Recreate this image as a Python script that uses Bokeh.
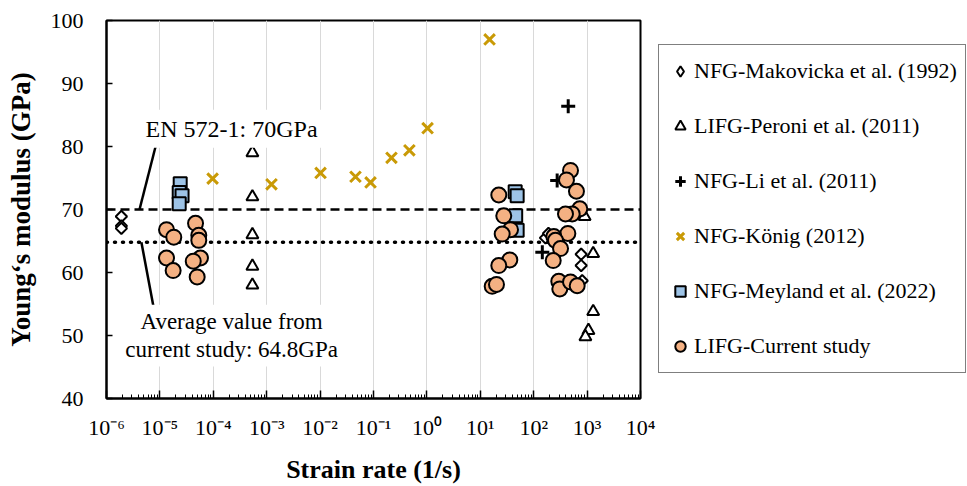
from bokeh.plotting import figure
from bokeh.layouts import row
from bokeh.models import (Span, Label, Legend, LegendItem, FixedTicker,
                          CustomJSTickFormatter, Range1d)
from bokeh.embed import file_html
from bokeh.resources import INLINE

# ---------------- data ----------------
mak_x = [1.9e-6, 1.9e-6, 1.9e-6, 166, 189, 774, 774, 809]
mak_y = [68.9, 67.4, 67.0, 65.5, 66.2, 62.9, 61.1, 58.7]

per_x = [5.4e-4, 5.4e-4, 5.4e-4, 5.4e-4, 5.4e-4, 900, 1300, 1300, 1060, 930]
per_y = [79.0, 72.0, 66.0, 61.0, 58.0, 68.9, 63.0, 53.8, 50.8, 49.8]

li_x = [443, 275, 145]
li_y = [86.4, 74.6, 63.2]

kon_x = [9.7e-5, 1.23e-3, 0.0102, 0.046, 0.088, 0.217, 0.47, 1.03, 14.9]
kon_y = [74.9, 74.0, 75.8, 75.2, 74.3, 78.2, 79.4, 82.9, 97.0]

mey_x = [2.4e-5, 2.3e-5, 2.6e-5, 2.3e-5, 45, 49, 46, 49]
mey_y = [74.1, 72.7, 72.2, 70.9, 72.8, 72.2, 69.0, 66.7]

cur_x = [1.33e-5, 1.82e-5, 1.33e-5, 1.77e-5, 4.65e-5, 5.35e-5, 5.35e-5, 5.75e-5, 4.21e-5, 4.99e-5,
         22.2, 27.5, 36.8, 25.7, 35.7, 22.2, 16.7, 20.1,
         489, 411, 632, 730, 526, 394, 436, 238, 256, 318, 232, 295, 308, 489, 652]
cur_y = [66.8, 65.6, 62.3, 60.3, 67.8, 65.9, 65.1, 62.3, 61.8, 59.3,
         72.3, 69.0, 66.8, 66.1, 62.0, 61.1, 57.8, 58.1,
         76.2, 74.7, 72.9, 70.1, 69.3, 69.3, 66.2, 65.7, 65.1, 63.8, 61.9, 58.6, 57.4, 58.5, 57.9]

series_labels = ["NFG-Makovicka et al. (1992)", "LIFG-Peroni et al. (2011)", "NFG-Li et al. (2011)",
                 "NFG-König (2012)", "NFG-Meyland et al. (2022)", "LIFG-Current study"]

reference_values = [70.0, 64.8]   # EN 572-1 value, average of current study

x_tick_exponents = [-6, -5, -4, -3, -2, -1, 0, 1, 2, 3, 4]
x_tick_labels = ["10⁻⁶", "10⁻⁵", "10⁻⁴", "10⁻³", "10⁻²", "10⁻¹", "10⁰", "10¹", "10²", "10³", "10⁴"]
y_ticks = [40, 50, 60, 70, 80, 90, 100]

# annotation texts and anchor positions (data coords)
en_text = "EN 572-1: 70GPa"
avg_text = "Average value from\ncurrent study: 64.8GPa"
en_pos = (2.2e-4, 82.8)
avg_pos = (2.2e-4, 50.0)
en_leader = ([8.3e-6, 4.15e-6], [80.0, 70.0])
avg_leader = ([4.5e-6, 7.5e-6], [64.8, 54.8])

FONT = "Liberation Serif"

# marker styles per series
styles = [
    dict(marker="square", angle=45, angle_units="deg", size=8, fill_color="white", line_color="black", line_width=2),
    dict(marker="triangle", size=12, fill_color="white", line_color="black", line_width=2),
    dict(marker="cross", size=14, line_color="black", line_width=3),
    dict(marker="x", size=15, line_color="#C99A06", line_width=3),
    dict(marker="square", size=13, fill_color="#9DC3E6", line_color="black", line_width=2),
    dict(marker="circle", size=15, fill_color="#F4B183", line_color="black", line_width=2),
]
# legend glyphs ignore the marker angle, so the first entry uses the diamond marker there
legend_styles = [dict(styles[0], marker="diamond", angle=0)] + styles[1:]
series_xy = [(mak_x, mak_y), (per_x, per_y), (li_x, li_y), (kon_x, kon_y), (mey_x, mey_y), (cur_x, cur_y)]

# ---------------- main figure ----------------
p = figure(width=658, height=486, x_axis_type="log",
           x_range=Range1d(10.0 ** x_tick_exponents[0], 10.0 ** x_tick_exponents[-1]),
           y_range=Range1d(y_ticks[0], y_ticks[-1]),
           output_backend="svg", toolbar_location=None,
           min_border_left=106, min_border_right=18, min_border_top=20, min_border_bottom=88,
           background_fill_color="white", border_fill_color="white")

p.outline_line_color = "black"
p.outline_line_width = 2
p.outline_line_alpha = 1

major = [10.0 ** e for e in x_tick_exponents]
minor = [m * 10.0 ** e for e in x_tick_exponents[:-1] for m in range(2, 10)]
p.xaxis.ticker = FixedTicker(ticks=major, minor_ticks=minor)
p.xaxis.formatter = CustomJSTickFormatter(args=dict(exps=x_tick_exponents, labels=x_tick_labels), code="""
const e = Math.round(Math.log10(tick));
const i = exps.indexOf(e);
return i >= 0 ? labels[i] : "";
""")
p.yaxis.ticker = FixedTicker(ticks=y_ticks)

for ax in (p.xaxis[0], p.yaxis[0]):
    ax.axis_line_color = "black"
    ax.axis_line_width = 2
    ax.major_tick_line_color = "black"
    ax.minor_tick_line_color = "black"
    ax.major_tick_line_width = 1.5
    ax.minor_tick_line_width = 1
    ax.major_tick_out = 0
    ax.minor_tick_out = 0
    ax.major_label_text_font = FONT
    ax.major_label_text_font_size = "22px"
    ax.major_label_text_color = "black"
    ax.axis_label_text_font = FONT
    ax.axis_label_text_font_style = "bold"
    ax.axis_label_text_color = "black"

p.xaxis.major_tick_in = 8
p.xaxis.minor_tick_in = 4
p.xaxis.major_label_standoff = 16
p.xaxis.axis_label = "Strain rate (1/s)"
p.xaxis.axis_label_text_font_size = "26px"
p.xaxis.axis_label_standoff = 12

p.yaxis.major_tick_in = 6
p.yaxis.minor_tick_in = 0
p.yaxis.major_label_standoff = 23
p.yaxis.axis_label = "Young‘s modulus (GPa)"
p.yaxis.axis_label_text_font_size = "27px"
p.yaxis.axis_label_standoff = 12

p.xgrid.ticker = FixedTicker(ticks=major)
p.xgrid.grid_line_color = "#d9d9d9"
p.xgrid.grid_line_width = 1
p.ygrid.visible = False

# reference lines
p.add_layout(Span(location=reference_values[0], dimension="width", line_color="black",
                  line_width=2.5, line_dash="9 5", level="underlay"))
p.add_layout(Span(location=reference_values[1], dimension="width", line_color="black",
                  line_width=3.5, line_dash="1 7", line_cap="round", level="underlay"))

# annotations
p.line(en_leader[0], en_leader[1], line_color="black", line_width=2.5)
p.line(avg_leader[0], avg_leader[1], line_color="black", line_width=2.5)
p.add_layout(Label(x=en_pos[0], y=en_pos[1], text=en_text, text_align="center",
                   text_baseline="middle", text_font=FONT, text_font_size="24px",
                   text_color="black", background_fill_color="white", padding=6))
p.add_layout(Label(x=avg_pos[0], y=avg_pos[1], text=avg_text, text_align="center",
                   text_baseline="middle", text_font=FONT, text_font_size="23px",
                   text_color="black", background_fill_color="white", padding=4,
                   text_line_height=1.15))

# series
for (xs, ys), st in zip(series_xy, styles):
    p.scatter(xs, ys, **st)

# ---------------- legend panel ----------------
# a separate, axis-less figure that only hosts the legend box; its renderers
# reuse the same series (they fall outside this panel's view and are not seen)
pl = figure(width=309, height=486, x_range=Range1d(0, 1), y_range=Range1d(0, 1),
            output_backend="svg", toolbar_location=None,
            x_axis_location=None, y_axis_location=None,
            min_border_left=0, min_border_right=0, min_border_top=20, min_border_bottom=88,
            outline_line_color=None,
            background_fill_color="white", border_fill_color="white")
pl.xgrid.visible = False
pl.ygrid.visible = False
leg_renderers = [pl.scatter(xs, ys, **st) for (xs, ys), st in zip(series_xy, legend_styles)]

legend = Legend(items=[LegendItem(label=l, renderers=[r]) for l, r in zip(series_labels, leg_renderers)],
                location=(0, 25), orientation="vertical",
                label_text_font=FONT, label_text_font_size="22px", label_text_color="black",
                glyph_width=26, glyph_height=36, label_height=36, spacing=19,
                padding=8, label_standoff=1, margin=0,
                border_line_color="black", border_line_width=1.5,
                background_fill_color="white", background_fill_alpha=1)
pl.add_layout(legend)

layout = row(p, pl, spacing=0)
open("out.html", "w").write(file_html(layout, INLINE))
